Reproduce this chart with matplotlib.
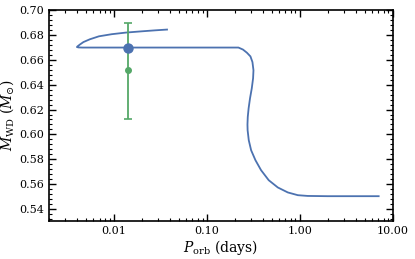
import numpy as np
import matplotlib
matplotlib.use('Agg')
import matplotlib.pyplot as plt
from matplotlib.ticker import MultipleLocator, FormatStrFormatter, LogLocator

plt.rcParams['font.family'] = 'DejaVu Serif'
plt.rcParams['mathtext.fontset'] = 'dejavuserif'

# evolutionary track (orbital period in days, WD mass in Msun)
track_p = [0.0373, 0.028, 0.020, 0.0135, 0.0095, 0.0069, 0.0055, 0.0047,
           0.0043, 0.00405, 0.0040, 0.00415, 0.0046, 0.0141, 0.05, 0.10, 0.219,
           0.245, 0.27, 0.295, 0.31, 0.318, 0.315, 0.305, 0.292, 0.282,
           0.276, 0.274, 0.275, 0.283, 0.300, 0.334, 0.384, 0.464,
           0.581, 0.745, 0.955, 1.22, 2.0, 4.0, 7.08]
track_m = [0.6840, 0.6834, 0.6826, 0.6816, 0.6803, 0.6786, 0.6762, 0.6740,
           0.6720, 0.6705, 0.6700, 0.6697, 0.6696, 0.6696, 0.6696, 0.6696, 0.6696,
           0.6680, 0.6655, 0.6625, 0.6580, 0.6514, 0.6450, 0.6370, 0.6290, 0.6210,
           0.6140, 0.6080, 0.6034, 0.5954, 0.5874, 0.5794, 0.5714, 0.5634,
           0.5576, 0.5536, 0.5514, 0.5508, 0.5506, 0.5506, 0.5506]

# current model position
model_p = 0.0141
model_m = 0.6696

# observed system
obs_p = 0.0141
obs_m = 0.652
obs_err_lo = 0.040
obs_err_hi = 0.037

blue = '#4C72B0'
green = '#55A868'

fig = plt.figure(figsize=(4.15, 2.59), dpi=100)
ax = fig.add_axes([0.118, 0.148, 0.828, 0.815])

ax.plot(track_p, track_m, color=blue, lw=1.3)
ax.errorbar([obs_p], [obs_m], yerr=[[obs_err_lo], [obs_err_hi]], fmt='o',
            color=green, ms=4, lw=1.3, capsize=3, capthick=1.2)
ax.plot([model_p], [model_m], 'o', color=blue, ms=6.5)

ax.set_xscale('log')
ax.set_xlim(0.002, 10)
ax.set_ylim(0.531, 0.70)

ax.xaxis.set_major_formatter(FormatStrFormatter('%.2f'))
ax.xaxis.set_minor_locator(LogLocator(base=10, subs=np.arange(2, 10), numticks=20))
ax.xaxis.set_minor_formatter(plt.NullFormatter())
ax.yaxis.set_major_locator(MultipleLocator(0.02))
ax.yaxis.set_minor_locator(MultipleLocator(0.004))
ax.yaxis.set_major_formatter(FormatStrFormatter('%.2f'))

ax.tick_params(which='both', direction='in', top=True, right=True, labelsize=8)
ax.tick_params(which='major', length=5, width=1)
ax.tick_params(which='minor', length=2.5, width=0.8)
for s in ax.spines.values():
    s.set_linewidth(1.2)

ax.set_xlabel(r'$P_{\rm orb}$ (days)', fontsize=10, labelpad=2)
ax.set_ylabel(r'$M_{\rm WD}$ ($M_{\odot}$)', fontsize=10, labelpad=2)

fig.savefig('out.png', dpi=100)
